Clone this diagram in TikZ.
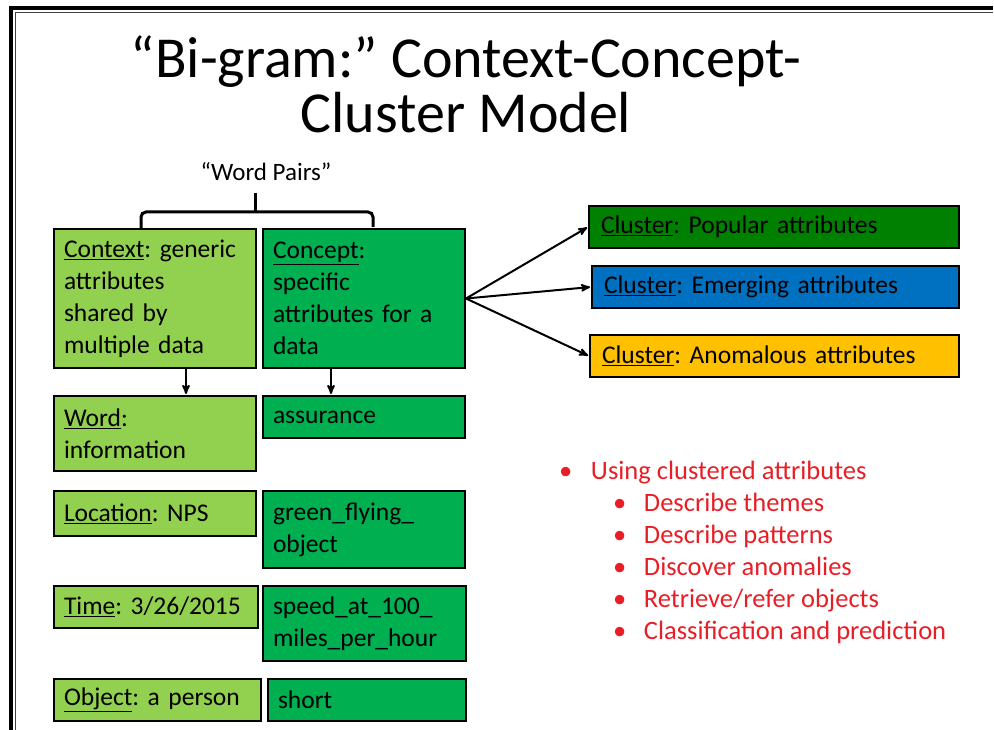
\documentclass[tikz,border=0pt]{standalone}
\usepackage{fontspec}
\setmainfont{Carlito}
\usetikzlibrary{arrows,positioning}

\definecolor{ctxgreen}{RGB}{146,208,80}
\definecolor{cptgreen}{RGB}{0,176,80}
\definecolor{popgreen}{RGB}{0,128,0}
\definecolor{emgblue}{RGB}{0,112,192}
\definecolor{anmyellow}{RGB}{255,192,0}
\definecolor{notered}{RGB}{232,30,38}
\frenchspacing

\begin{document}
\begin{tikzpicture}[->,>=stealth',shorten >=1pt,x=1pt,y=-1pt,line width=2pt,
                    font=\fontsize{25.5}{32}\selectfont]
  \tikzstyle{box}=[draw=black,anchor=north west,align=left,inner xsep=10pt,inner ysep=4pt]
  \tikzstyle{ctxbox}=[box,fill=ctxgreen]
  \tikzstyle{cptbox}=[box,fill=cptgreen]
  \tikzstyle{clubox}=[box,minimum height=42pt,inner xsep=12pt]
  \tikzstyle{redtxt}=[text=notered,anchor=base west,inner sep=0pt,font=\fontsize{26.5}{32}\selectfont]

  \useasboundingbox (0,0) rectangle (994,730);
  \draw[-,line width=4pt] (11,730) -- (11,8) -- (994,8);          % frame
  \draw[-,line width=1pt,black!75] (15,730) -- (15,12.5) -- (994,12.5);

  \node[align=center,font=\fontsize{58}{55}\selectfont] (title) at (466,84)
       {“Bi-gram:” Context-Concept-\\Cluster Model};
  \node[font=\fontsize{25}{28}\selectfont] (wp) at (266,172) {“Word Pairs”};

  % left column: context attributes
  \node[ctxbox,minimum width=202pt,minimum height=139pt,text width=182pt] (ctx) at (53,228)
       {\underline{Context}: generic\\attributes\\shared by\\multiple data};
  \node[ctxbox,minimum width=202pt,minimum height=75pt,text width=182pt]  (wrd) at (53,395)
       {\underline{Word}:\\information};
  \node[ctxbox,minimum width=202pt,minimum height=45pt,text width=182pt]  (loc) at (53,490)
       {\underline{Location}: NPS};
  \node[ctxbox,minimum width=204pt,minimum height=42pt,text width=184pt]  (tim) at (53,585)
       {\underline{Time}: 3/26/2015};
  \node[ctxbox,minimum width=207pt,minimum height=42pt,text width=187pt]  (obj) at (53,678)
       {\underline{Object}: a person};

  % right column: concept attributes
  \node[cptbox,minimum width=202pt,minimum height=139pt,text width=182pt] (cpt)
       [right=5pt of ctx.north east,anchor=north west] {\underline{Concept}:\\specific\\attributes for a\\data};
  \node[cptbox,minimum width=202pt,minimum height=42pt,text width=182pt]  (asr)
       [right=5pt of wrd.north east,anchor=north west] {assurance};
  \node[cptbox,minimum width=202pt,minimum height=77pt,text width=182pt]  (gfo)
       [right=5pt of loc.north east,anchor=north west] {green\_flying\_\\object};
  \node[cptbox,minimum width=203pt,minimum height=75pt,text width=183pt]  (spd)
       [right=3pt of tim.north east,anchor=north west] {speed\_at\_100\_\\miles\_per\_hour};
  \node[cptbox,minimum width=198pt,minimum height=42pt,text width=178pt]  (sht)
       [right=5pt of obj.north east,anchor=north west] {short};

  % clusters
  \node[clubox,fill=popgreen,minimum width=370pt,text width=346pt]  (pop) at (588,205)
       {\underline{Cluster}: Popular attributes};
  \node[clubox,fill=emgblue,minimum width=367pt,text width=343pt]   (emg) at (591,265)
       {\underline{Cluster}: Emerging attributes};
  \node[clubox,fill=anmyellow,minimum width=369pt,text width=345pt] (anm) at (589,334)
       {\underline{Cluster}: Anomalous attributes};

  % "word pairs" bracket
  \coordinate (brk) at (255,212);
  \draw[-,line width=3pt,rounded corners=5pt] ([xshift=-14pt]ctx.north) -- ([xshift=-14pt]ctx.north |- brk)
       -- ([xshift=9pt]cpt.north |- brk) -- ([xshift=9pt]cpt.north);
  \draw[-,line width=3pt] (brk) -- ([yshift=20pt]brk);

  \path (cpt.east) edge (pop.west)
        (cpt.east) edge (emg.west)
        (cpt.east) edge (anm.west)
        ([xshift=31pt]ctx.south)  edge ([xshift=31pt]ctx.south |- wrd.north)
        ([xshift=-33pt]cpt.south) edge ([xshift=-33pt]cpt.south |- asr.north);

  % uses of the clusters
  \node[redtxt] (use) at (558,479) {\makebox[32pt][l]{•}Using clustered attributes};
  \node[redtxt] (thm) at (612,511) {\makebox[31pt][l]{•}Describe themes};
  \node[redtxt] (pat) at (612,543) {\makebox[31pt][l]{•}Describe patterns};
  \node[redtxt] (ano) at (612,575) {\makebox[31pt][l]{•}Discover anomalies};
  \node[redtxt] (ret) at (612,607) {\makebox[31pt][l]{•}Retrieve/refer objects};
  \node[redtxt] (cls) at (612,639) {\makebox[31pt][l]{•}Classification and prediction};
\end{tikzpicture}
\end{document}
